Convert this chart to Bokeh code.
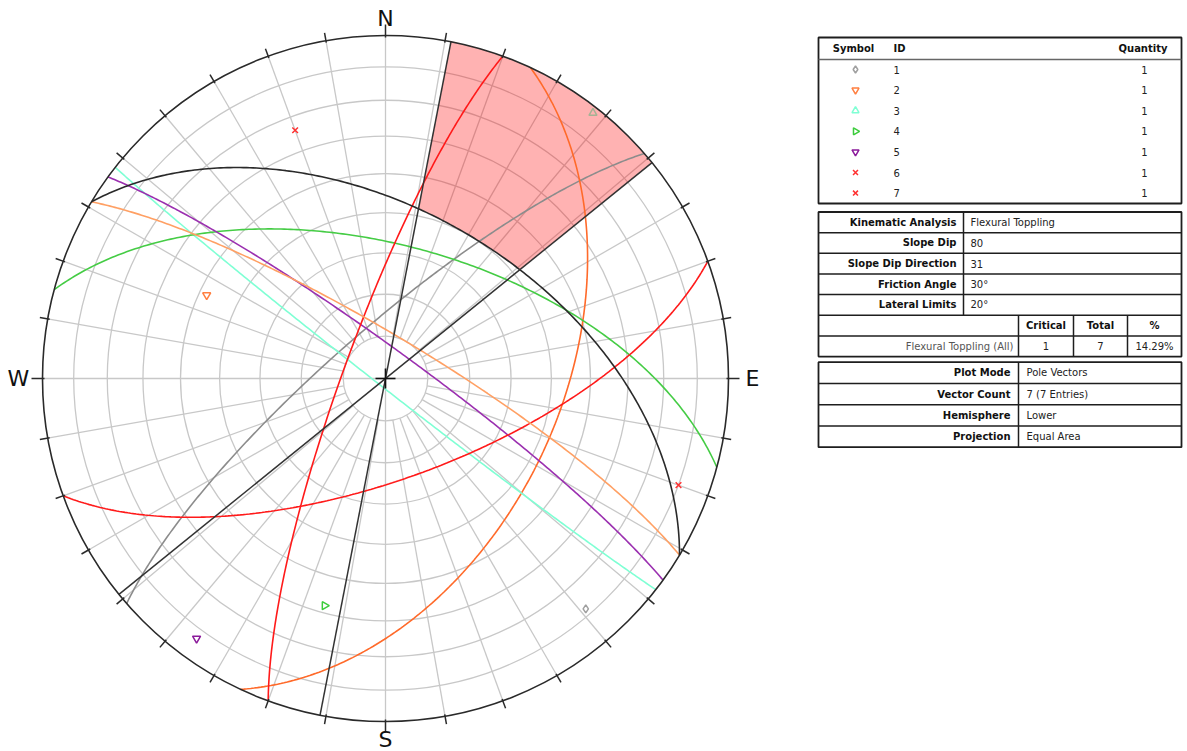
import numpy as np
from bokeh.plotting import figure
from bokeh.layouts import row
from bokeh.models import Range1d
from bokeh.core.properties import value
from bokeh.embed import file_html
from bokeh.resources import INLINE

# ---------------- data ----------------
plane_ids = ["1", "2", "3", "4", "5", "6", "7"]
plane_dips = [78, 48, 88, 58, 83, 66, 80]
plane_dipdirs = [319, 115, 218, 15, 36, 160, 290]
plane_colors = ["#8c8c8c", "#ff6a2a", "#7fffd4", "#45cc45", "#9b30b0", "#ff1a1a", "#ff1a1a"]
pole_colors = ["#a0a0a0", "#ff7f40", "#7fffd4", "#3ccc3c", "#8b1a9b", "#ff3030", "#ff3030"]
pole_markers = ["diamond", "inverted_triangle", "triangle", "triangle", "inverted_triangle", "x", "x"]
pole_angles = [0, 0, 0, -np.pi / 2, 0, 0, 0]
quantities = [1, 1, 1, 1, 1, 1, 1]

slope_dip = 80
slope_dipdir = 31
friction_angle = 30
lateral_limit = 20
critical_count = 1
total_count = 7

grid_dips = [10, 20, 30, 40, 50, 60, 70, 80]
grid_azimuths = list(range(0, 360, 10))
compass_labels = ["N", "E", "S", "W"]
compass_azimuths = [0, 90, 180, 270]

kin_labels = ["Kinematic Analysis", "Slope Dip", "Slope Dip Direction", "Friction Angle", "Lateral Limits"]
kin_values = ["Flexural Toppling", str(slope_dip), str(slope_dipdir), f"{friction_angle}°", f"{lateral_limit}°"]
result_headers = ["Critical", "Total", "%"]
result_label = "Flexural Toppling (All)"
info_labels = ["Plot Mode", "Vector Count", "Hemisphere", "Projection"]
info_values = ["Pole Vectors", "7 (7 Entries)", "Lower", "Equal Area"]

# ---------------- projection helpers ----------------
R = 343.0


def proj(trend, plunge):
    t = np.radians(np.asarray(trend, dtype=float))
    p = np.radians(np.asarray(plunge, dtype=float))
    r = R * np.sqrt(2) * np.sin((np.pi / 2 - p) / 2)
    return r * np.sin(t), r * np.cos(t)


def great_circle(dipdir, dip, n=241):
    strike = dipdir - 90
    lam = np.radians(np.linspace(0, 180, n))
    d = np.radians(dip)
    plunge = np.degrees(np.arcsin(np.sin(d) * np.sin(lam)))
    trend = strike + np.degrees(np.arctan2(np.cos(d) * np.sin(lam), np.cos(lam)))
    return proj(trend, plunge)


def dip_radius(dip):
    return R * np.sqrt(2) * np.sin(np.radians(dip) / 2)


# ---------------- stereonet figure ----------------
p = figure(width=808, height=751, x_range=Range1d(-385, 423), y_range=Range1d(-373, 378),
           output_backend="svg", toolbar_location=None, min_border=0,
           x_axis_type=None, y_axis_type=None)
p.grid.visible = False
p.outline_line_color = None

grid_col = "#c8c8c8"
# concentric dip circles
for gd in grid_dips:
    p.circle(x=0, y=0, radius=dip_radius(gd), fill_color=None, line_color=grid_col, line_width=1.3)
# radial lines
r_in = dip_radius(grid_dips[0])
xs, ys = [], []
for az in grid_azimuths:
    a = np.radians(az)
    start = 0 if az % 90 == 0 else r_in
    xs.append([start * np.sin(a), R * np.sin(a)])
    ys.append([start * np.cos(a), R * np.cos(a)])
p.multi_line(xs, ys, line_color=grid_col, line_width=1.3)

# poles
px, py = proj(np.array(plane_dipdirs) + 180, 90 - np.array(plane_dips))
p.scatter(px, py, marker=pole_markers, angle=pole_angles, size=8, fill_color=None,
          line_color=pole_colors, line_width=1.5)

# critical zone (flexural toppling)
slip_dip = slope_dip - friction_angle
az0, az1 = slope_dipdir - lateral_limit, slope_dipdir + lateral_limit
arc = np.linspace(az0, az1, 60)
ox, oy = proj(arc, np.zeros_like(arc))
app = np.degrees(np.arctan(np.tan(np.radians(slip_dip)) * np.cos(np.radians(arc[::-1] - slope_dipdir))))
ix, iy = proj(arc[::-1], app)
p.patch(np.concatenate([ox, ix]), np.concatenate([oy, iy]), fill_color="#ff0000", fill_alpha=0.3,
        line_color=None)

# plane great circles
gxs, gys = [], []
for dd, dp in zip(plane_dipdirs, plane_dips):
    gx, gy = great_circle(dd, dp)
    gxs.append(gx)
    gys.append(gy)
p.multi_line(gxs, gys, line_color=plane_colors, line_width=1.6)

# slope face, slip limit, lateral limits
sx, sy = great_circle(slope_dipdir, slope_dip)
p.line(sx, sy, line_color="#ffa064", line_width=1.6)
lx, ly = great_circle(slope_dipdir, slip_dip)
p.line(lx, ly, line_color="#2a2a2a", line_width=1.6)
lat_x, lat_y = [], []
for az in (az0, az1):
    a = np.radians(az)
    lat_x.append([R * np.sin(a), -R * np.sin(a)])
    lat_y.append([R * np.cos(a), -R * np.cos(a)])
p.multi_line(lat_x, lat_y, line_color="#333333", line_width=1.5)

# primitive and ticks
p.circle(x=0, y=0, radius=R, fill_color=None, line_color="#2a2a2a", line_width=1.6)
tx, ty = [], []
for az in grid_azimuths:
    a = np.radians(az)
    outer = R + (11 if az % 90 == 0 else 8)
    tx.append([(R - 2) * np.sin(a), outer * np.sin(a)])
    ty.append([(R - 2) * np.cos(a), outer * np.cos(a)])
p.multi_line(tx, ty, line_color="#2a2a2a", line_width=1.5)

# center cross
p.multi_line([[-10, 10], [0, 0]], [[0, 0], [-10, 10]], line_color="#111111", line_width=1.6)

# compass labels
lab_r = [360, 367, 361, 367]
cx = [rr * np.sin(np.radians(a)) for rr, a in zip(lab_r, compass_azimuths)]
cy = [rr * np.cos(np.radians(a)) for rr, a in zip(lab_r, compass_azimuths)]
p.text(cx, cy, text=compass_labels, text_font=value("DejaVu Sans"), text_font_size="22px",
       text_align="center", text_baseline="middle", text_color="#111111")

# ---------------- table figure ----------------
t = figure(width=379, height=751, x_range=Range1d(808, 1187), y_range=Range1d(751, 0),
           output_backend="svg", toolbar_location=None, min_border=0,
           x_axis_type=None, y_axis_type=None)
t.grid.visible = False
t.outline_line_color = None

FONT = value("DejaVu Sans")
line_col = "#1e1e1e"
L, Rt = 818, 1181


def txt(x, y, s, align="left", bold=False, color="#222222"):
    t.text(x, y, text=s, text_font=FONT, text_font_size="10px",
           text_font_style="bold" if bold else "normal", text_align=align,
           text_baseline="middle", text_color=color)


# Table 1: legend
t1_top, t1_bot, t1_head = 37, 203, 59
t.quad(left=L, right=Rt, top=t1_top, bottom=t1_bot, fill_color=None, line_color=line_col, line_width=1.8)
t.segment(L, t1_head, Rt, t1_head, line_color="#666666", line_width=1.5)
txt([853], [47.5], ["Symbol"], "center", True, "#111111")
txt([893], [47.5], ["ID"], "left", True, "#111111")
txt([1167], [47.5], ["Quantity"], "right", True, "#111111")
row_y = [69 + 20.6 * i for i in range(len(plane_ids))]
t.scatter([855] * len(plane_ids), row_y, marker=pole_markers, angle=pole_angles, size=7,
          fill_color=None, line_color=pole_colors, line_width=1.5)
txt([893] * len(plane_ids), row_y, plane_ids)
txt([1144] * len(plane_ids), row_y, [str(q) for q in quantities], "center")

# Table 2: kinematic analysis
t2_top, t2_step = 211.5, 20.65
n2 = len(kin_labels) + 2
t2_bot = t2_top + n2 * t2_step
t.quad(left=L, right=Rt, top=t2_top, bottom=t2_bot, fill_color=None, line_color=line_col, line_width=1.8)
hy = [t2_top + t2_step * i for i in range(1, n2)]
t.segment([L] * len(hy), hy, [Rt] * len(hy), hy, line_color=line_col, line_width=1.5)
split_y = t2_top + t2_step * len(kin_labels)
t.segment(963, t2_top, 963, split_y, line_color=line_col, line_width=1.5)
col_x = [1018, 1073, 1127]
t.segment(col_x, [split_y] * 3, col_x, [t2_bot] * 3, line_color=line_col, line_width=1.5)
ky = [t2_top + t2_step * (i + 0.5) for i in range(len(kin_labels))]
txt([956] * len(kin_labels), ky, kin_labels, "right", True, "#111111")
txt([970] * len(kin_values), ky, kin_values)
col_c = [1045.5, 1100, 1154]
y5 = t2_top + t2_step * (len(kin_labels) + 0.5)
y6 = t2_top + t2_step * (len(kin_labels) + 1.5)
txt(col_c, [y5] * 3, result_headers, "center", True, "#111111")
pct = f"{100 * critical_count / total_count:.2f}%"
txt([1013], [y6], [result_label], "right", False, "#555555")
txt(col_c, [y6] * 3, [str(critical_count), str(total_count), pct], "center")

# Table 3: plot info
t3_top, t3_step = 361.7, 21.25
n3 = len(info_labels)
t3_bot = t3_top + n3 * t3_step
t.quad(left=L, right=Rt, top=t3_top, bottom=t3_bot, fill_color=None, line_color=line_col, line_width=1.8)
hy3 = [t3_top + t3_step * i for i in range(1, n3)]
t.segment([L] * len(hy3), hy3, [Rt] * len(hy3), hy3, line_color=line_col, line_width=1.5)
t.segment(1018, t3_top, 1018, t3_bot, line_color=line_col, line_width=1.5)
iy3 = [t3_top + t3_step * (i + 0.5) for i in range(n3)]
txt([1010] * n3, iy3, info_labels, "right", True, "#111111")
txt([1026] * n3, iy3, info_values)

layout = row(p, t)
open("out.html", "w").write(file_html(layout, INLINE))
